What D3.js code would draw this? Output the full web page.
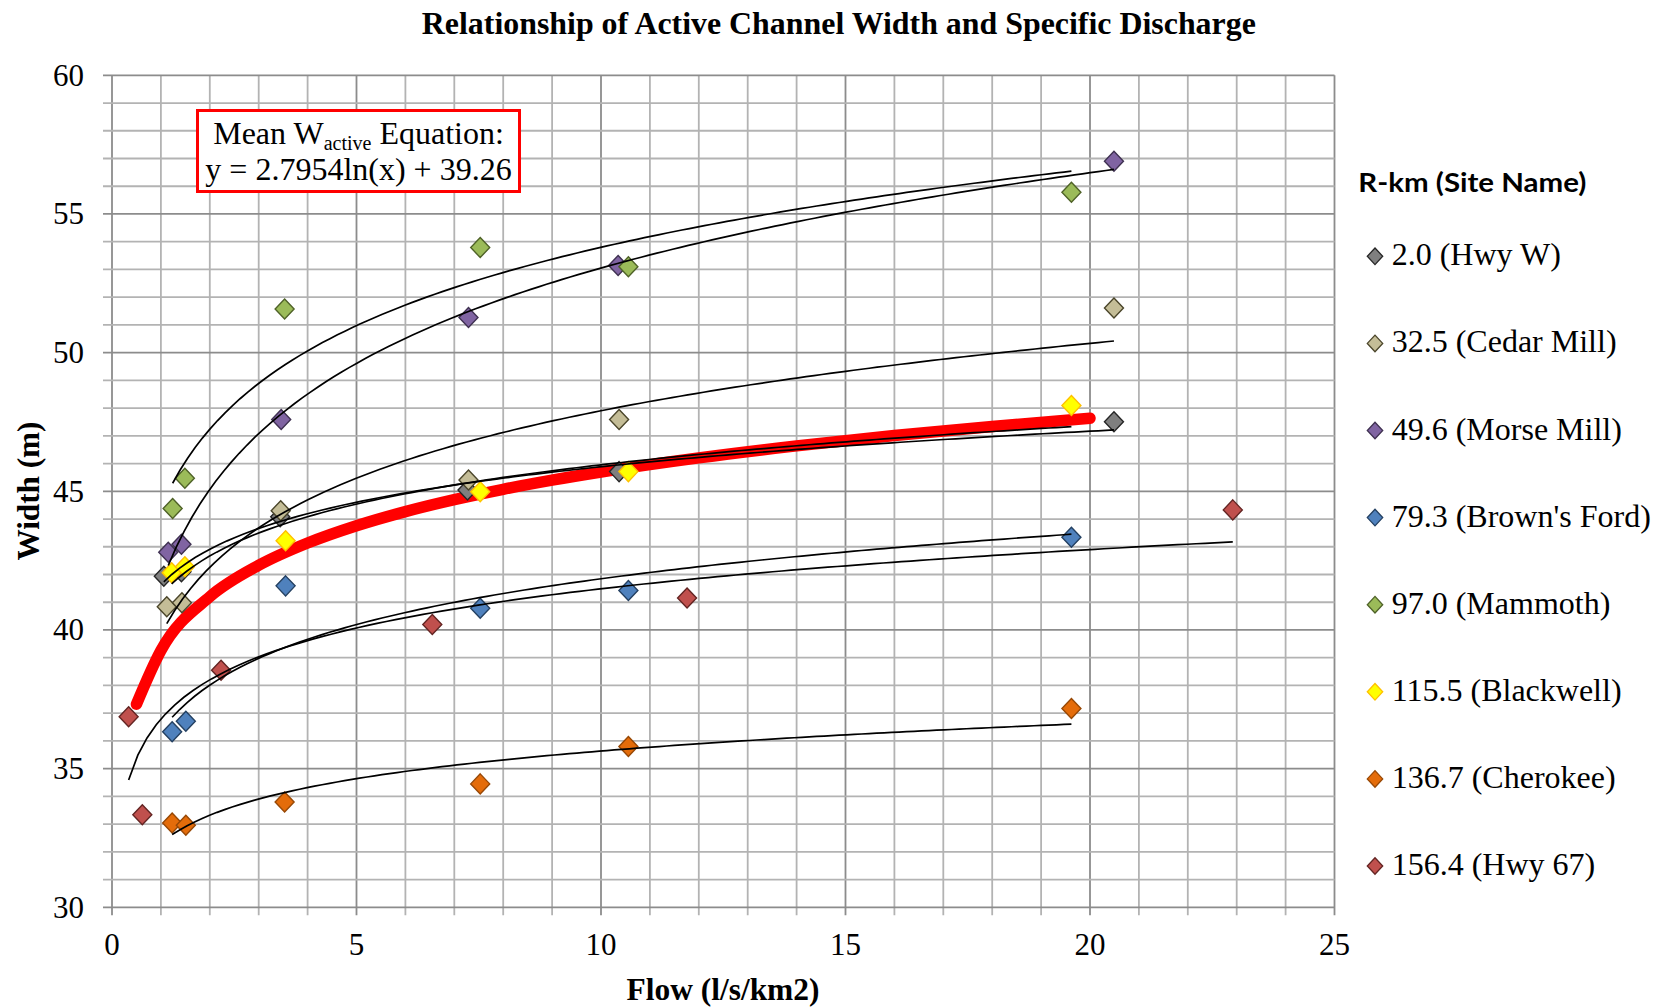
<!DOCTYPE html>
<html>
<head>
<meta charset="utf-8">
<script src="https://cdn.jsdelivr.net/npm/d3@7/dist/d3.min.js"></script>
<style>
  html, body { margin: 0; padding: 0; background: #ffffff; }
  svg { display: block; }
</style>
</head>
<body>
<svg id="chart" width="1665" height="1008"></svg>
<script>
// ---- Data -------------------------------------------------------------
// Specific discharge (l/s/km2) and active channel width (m) for each site.
const siteNames = [
  "2.0 (Hwy W)", "32.5 (Cedar Mill)", "49.6 (Morse Mill)", "79.3 (Brown's Ford)",
  "97.0 (Mammoth)", "115.5 (Blackwell)", "136.7 (Cherokee)", "156.4 (Hwy 67)"
];

const flowHwyW      = [1.06, 1.42, 3.44, 7.27, 10.37, 20.49];
const widthHwyW     = [41.94, 42.10, 44.08, 45.05, 45.71, 47.51];

const flowCedarMill  = [1.12, 1.43, 3.45, 7.29, 10.37, 20.49];
const widthCedarMill = [40.84, 40.98, 44.30, 45.41, 47.59, 51.61];

const flowMorseMill  = [1.15, 1.42, 3.46, 7.29, 10.35, 20.49];
const widthMorseMill = [42.80, 43.09, 47.59, 51.27, 53.14, 56.90];

const flowBrownsFord  = [1.23, 1.51, 3.55, 7.53, 10.56, 19.62];
const widthBrownsFord = [36.33, 36.71, 41.59, 40.78, 41.42, 43.34];

const flowMammoth  = [1.24, 1.49, 3.53, 7.53, 10.56, 19.62];
const widthMammoth = [44.38, 45.47, 51.57, 53.79, 53.10, 55.78];

const flowBlackwell  = [1.22, 1.49, 3.55, 7.53, 10.56, 19.62];
const widthBlackwell = [42.06, 42.28, 43.22, 44.98, 45.71, 48.09];

const flowCherokee  = [1.23, 1.51, 3.53, 7.53, 10.56, 19.62];
const widthCherokee = [33.04, 32.96, 33.80, 34.45, 35.80, 37.17];

const flowHwy67  = [0.34, 0.62, 2.23, 6.55, 11.76, 22.92];
const widthHwy67 = [36.87, 33.34, 38.55, 40.20, 41.15, 44.33];

// Mean active-width equation: y = slope * ln(x) + intercept
const meanSlope = 2.7954;
const meanIntercept = 39.26;
const meanCurveFlows = [0.5, 1, 2, 3, 4, 5, 6, 7, 8, 9, 10, 12, 14, 16, 18, 20];

const flowTicks  = [0, 5, 10, 15, 20, 25];
const widthTicks = [30, 35, 40, 45, 50, 55, 60];

// ---- Styling ----------------------------------------------------------
const markerFill   = ["#7f7f7f", "#c4bd97", "#8064a2", "#4f81bd", "#9bbb59", "#ffff00", "#e46c0a", "#c0504d"];
const markerStroke = ["#262626", "#4a452a", "#3f3151", "#244061", "#4f6228", "#ffc000", "#974806", "#632523"];

const serif = "'Liberation Serif', 'Times New Roman', serif";

// ---- Assemble series --------------------------------------------------
const flowsBySite  = [flowHwyW, flowCedarMill, flowMorseMill, flowBrownsFord, flowMammoth, flowBlackwell, flowCherokee, flowHwy67];
const widthsBySite = [widthHwyW, widthCedarMill, widthMorseMill, widthBrownsFord, widthMammoth, widthBlackwell, widthCherokee, widthHwy67];

const series = siteNames.map((name, i) => ({
  name,
  fill: markerFill[i],
  stroke: markerStroke[i],
  points: flowsBySite[i].map((f, j) => ({ flow: f, width: widthsBySite[i][j] }))
}));

// Least-squares logarithmic fit: width = a * ln(flow) + b
function logFit(points) {
  const lx = points.map(p => Math.log(p.flow));
  const mx = d3.mean(lx), my = d3.mean(points, p => p.width);
  let sxy = 0, sxx = 0;
  points.forEach((p, k) => { sxy += (lx[k] - mx) * (p.width - my); sxx += (lx[k] - mx) ** 2; });
  const a = sxy / sxx;
  return { a, b: my - a * mx };
}

// ---- Layout -----------------------------------------------------------
const svg = d3.select("#chart");
const plot = { left: 112, right: 1334.5, top: 75.3, bottom: 907.3 };

const x = d3.scaleLinear().domain([0, 25]).range([plot.left, plot.right]);
const y = d3.scaleLinear().domain([30, 60]).range([plot.bottom, plot.top]);

svg.append("rect").attr("width", 1665).attr("height", 1008).attr("fill", "#ffffff");

// Gridlines every unit; the ones on labelled ticks are a touch darker
const grid = svg.append("g").attr("class", "grid");
d3.range(0, 26).forEach(v => {
  grid.append("line")
    .attr("x1", x(v)).attr("x2", x(v))
    .attr("y1", plot.top).attr("y2", plot.bottom + 8)
    .attr("stroke", v % 5 === 0 ? "#8c8c8c" : "#b3b3b3")
    .attr("stroke-width", 1.8);
});
d3.range(30, 61).forEach(v => {
  grid.append("line")
    .attr("x1", plot.left - 9).attr("x2", plot.right)
    .attr("y1", y(v)).attr("y2", y(v))
    .attr("stroke", v % 5 === 0 ? "#8c8c8c" : "#b3b3b3")
    .attr("stroke-width", 1.8);
});

// Axis tick labels
svg.append("g").selectAll("text").data(widthTicks).join("text")
  .attr("x", 84).attr("y", d => y(d) + 10.5)
  .attr("text-anchor", "end")
  .attr("font-family", serif).attr("font-size", 31)
  .attr("fill", "#000").text(d => d);

svg.append("g").selectAll("text").data(flowTicks).join("text")
  .attr("x", d => x(d)).attr("y", 955)
  .attr("text-anchor", "middle")
  .attr("font-family", serif).attr("font-size", 31)
  .attr("fill", "#000").text(d => d);

// Title and axis titles
svg.append("text")
  .attr("x", 838.8).attr("y", 33.5)
  .attr("text-anchor", "middle")
  .attr("font-family", serif).attr("font-weight", "bold").attr("font-size", 32)
  .attr("textLength", 834).attr("lengthAdjust", "spacingAndGlyphs")
  .text("Relationship of Active Channel Width and Specific Discharge");

svg.append("text")
  .attr("transform", "translate(39,491) rotate(-90)")
  .attr("text-anchor", "middle")
  .attr("font-family", serif).attr("font-weight", "bold").attr("font-size", 31)
  .attr("textLength", 139).attr("lengthAdjust", "spacingAndGlyphs")
  .text("Width (m)");

svg.append("text")
  .attr("x", 723).attr("y", 1000)
  .attr("text-anchor", "middle")
  .attr("font-family", serif).attr("font-weight", "bold").attr("font-size", 32)
  .attr("textLength", 193).attr("lengthAdjust", "spacingAndGlyphs")
  .text("Flow (l/s/km2)");

// Mean equation curve (thick red)
const meanLine = d3.line()
  .x(d => x(d))
  .y(d => y(meanSlope * Math.log(d) + meanIntercept))
  .curve(d3.curveMonotoneX);
svg.append("path")
  .datum(meanCurveFlows)
  .attr("d", meanLine)
  .attr("fill", "none")
  .attr("stroke", "#ff0000")
  .attr("stroke-width", 11.5)
  .attr("stroke-linecap", "round")
  .attr("stroke-linejoin", "round");

// Site markers (diamonds)
const diamond = (cx, cy, hw, hh) => `M${cx},${cy - hh}L${cx + hw},${cy}L${cx},${cy + hh}L${cx - hw},${cy}Z`;
const markers = svg.append("g").attr("class", "markers");
series.forEach(s => {
  markers.append("g").selectAll("path").data(s.points).join("path")
    .attr("d", p => diamond(x(p.flow), y(p.width), 9.5, 10))
    .attr("fill", s.fill)
    .attr("stroke", s.stroke)
    .attr("stroke-width", 1.4);
});

// Logarithmic trendline for each site over its flow range
const trendLayer = svg.append("g").attr("class", "trendlines");
series.forEach(s => {
  const { a, b } = logFit(s.points);
  const [lo, hi] = d3.extent(s.points, p => p.flow);
  const samples = d3.range(0, 121).map(k => lo + (hi - lo) * k / 120);
  trendLayer.append("path")
    .datum(samples)
    .attr("d", d3.line().x(f => x(f)).y(f => y(a * Math.log(f) + b)))
    .attr("fill", "none")
    .attr("stroke", "#000")
    .attr("stroke-width", 1.7);
});

// Equation annotation
const eq = svg.append("g").attr("class", "equation");
eq.append("rect")
  .attr("x", 197.5).attr("y", 110.5).attr("width", 322).attr("height", 81)
  .attr("fill", "#ffffff").attr("stroke", "#ff0000").attr("stroke-width", 3);
const eqLine1 = eq.append("text")
  .attr("x", 358.5).attr("y", 143.5)
  .attr("text-anchor", "middle")
  .attr("font-family", serif).attr("font-size", 32).attr("fill", "#000");
eqLine1.append("tspan").text("Mean W");
eqLine1.append("tspan").attr("font-size", 20).attr("dy", 6).text("active");
eqLine1.append("tspan").attr("dy", -6).text(" Equation:");
eq.append("text")
  .attr("x", 358.5).attr("y", 180)
  .attr("text-anchor", "middle")
  .attr("font-family", serif).attr("font-size", 32).attr("fill", "#000")
  .text(`y = ${meanSlope}ln(x) + ${meanIntercept}`);

// Legend
const legend = svg.append("g").attr("class", "legend");
legend.append("text")
  .attr("x", 1358.3).attr("y", 191.7)
  .attr("font-family", "Lato, 'Open Sans', sans-serif").attr("font-weight", "bold").attr("font-size", 26)
  .attr("textLength", 228).attr("lengthAdjust", "spacingAndGlyphs")
  .text("R-km (Site Name)");

const legendTop = 256.3, legendStep = 87.1;
series.forEach((s, i) => {
  const cy = legendTop + i * legendStep;
  legend.append("path")
    .attr("d", diamond(1375, cy, 7.7, 8.3))
    .attr("fill", s.fill).attr("stroke", s.stroke).attr("stroke-width", 1.3);
  legend.append("text")
    .attr("x", 1391.7).attr("y", cy + 9)
    .attr("font-family", serif).attr("font-size", 32).attr("fill", "#000")
    .text(s.name);
});
</script>
</body>
</html>
